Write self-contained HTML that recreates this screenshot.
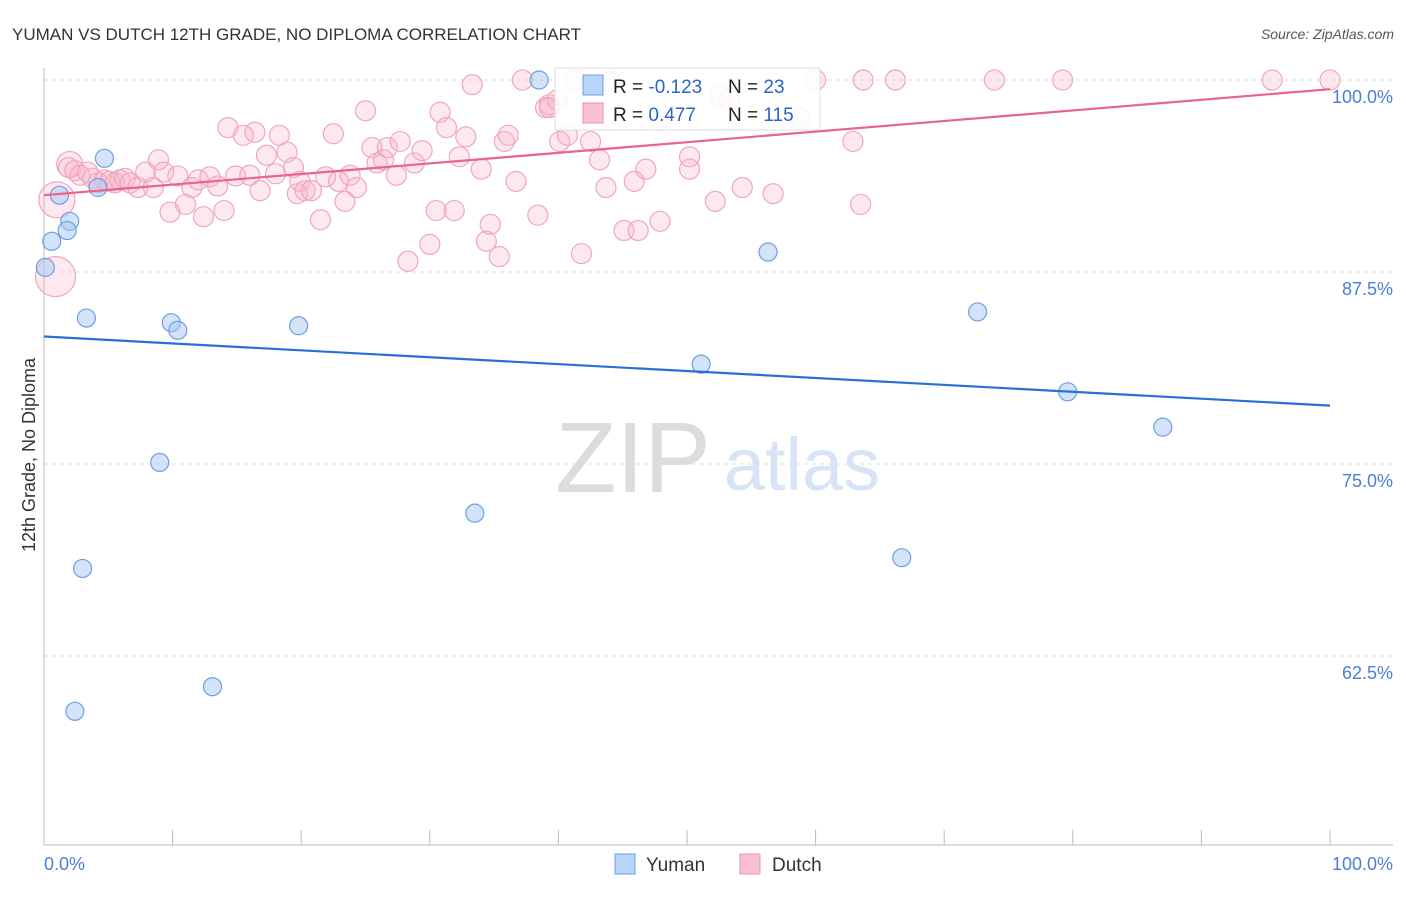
<!DOCTYPE html>
<html><head><meta charset="utf-8"><style>
body{margin:0;background:#fff;font-family:"Liberation Sans",sans-serif;}
svg text{font-family:"Liberation Sans",sans-serif;}
</style></head><body>
<svg id="chart" width="1406" height="892" viewBox="0 0 1406 892">
<text x="12" y="40" font-size="17" fill="#333">YUMAN VS DUTCH 12TH GRADE, NO DIPLOMA CORRELATION CHART</text>
<text x="1394" y="39" font-size="14" fill="#555" text-anchor="end" font-style="italic">Source: ZipAtlas.com</text>
<g>
<text x="633" y="492" font-size="100" fill="#dcdcdc" text-anchor="middle" font-family="Liberation Serif">ZIP</text>
<text x="802" y="490" font-size="74" fill="#d6e4f6" text-anchor="middle">atlas</text>
</g>
<g id="grid"></g>
<g id="axes"></g>
<g id="marks"></g>
<g>
<rect x="555" y="68" width="265" height="62" fill="#fff" fill-opacity="0.85" stroke="#ddd"/>
<rect x="583" y="75" width="20" height="20" fill="#b8d4f6" stroke="#6a9fe0"/>
<rect x="583" y="103" width="20" height="20" fill="#f9c2d2" stroke="#e890a8"/>
<text x="613" y="93" font-size="19" fill="#222">R = <tspan fill="#2a64c8">-0.123</tspan></text>
<text x="728" y="93" font-size="19" fill="#222">N = <tspan fill="#2a64c8"> 23</tspan></text>
<text x="613" y="121" font-size="19" fill="#222">R = <tspan fill="#2a64c8"> 0.477</tspan></text>
<text x="728" y="121" font-size="19" fill="#222">N = <tspan fill="#2a64c8">115</tspan></text>
</g>
<g>
<rect x="615" y="854" width="20" height="20" fill="#b8d4f6" stroke="#6a9fe0"/>
<text x="646" y="871" font-size="19" fill="#333">Yuman</text>
<rect x="740" y="854" width="20" height="20" fill="#f9c2d2" stroke="#e890a8"/>
<text x="772" y="871" font-size="19" fill="#333">Dutch</text>
</g>
<text transform="translate(35,455) rotate(-90)" font-size="18" fill="#333" text-anchor="middle">12th Grade, No Diploma</text>
</svg>
<script>
const yTicks=[100,87.5,75,62.5];
const yTickLabels=["100.0%","87.5%","75.0%","62.5%"];
const xLabels=["0.0%","100.0%"];
const blueX=[4.7,1.2,2.0,1.8,0.6,4.2,0.1,3.3,9.9,10.4,19.8,9.0,3.0,13.1,2.4,33.5,38.5,51.1,56.3,72.6,79.6,87.0,66.7];
const blueY=[94.9,92.5,90.8,90.2,89.5,93.0,87.8,84.5,84.2,83.7,84.0,75.1,68.2,60.5,58.9,71.8,100,81.5,88.8,84.9,79.7,77.4,68.9];
const pinkX=[1.0,0.9,2.0,1.9,2.4,2.8,3.4,3.8,4.2,4.7,5.1,5.5,5.9,6.3,6.7,7.3,7.9,8.5,8.9,9.3,9.8,10.4,11.0,11.5,12.0,12.4,12.9,13.5,14.0,14.3,14.9,15.5,16.0,16.4,16.8,17.3,18.0,18.3,18.9,19.4,19.7,19.9,20.3,20.8,21.5,21.9,22.5,22.9,23.4,23.8,24.3,25.0,25.5,25.9,26.4,26.7,27.4,27.7,28.3,28.8,29.4,30.0,30.5,30.8,31.3,31.9,32.3,32.8,33.3,34.0,34.4,34.7,35.4,35.8,36.1,36.7,37.2,38.4,39.0,39.3,39.9,40.1,40.7,41.8,42.5,43.2,43.7,45.1,45.9,46.2,46.8,47.9,50.2,52.2,54.3,56.7,60.0,62.9,63.5,63.7,66.2,73.9,79.2,95.5,100,41.3,44.0,47.9,50.2,52.6,53.3,58.8,39.3];
const pinkY=[92.2,87.2,94.5,94.3,94.1,93.8,94.0,93.6,93.3,93.5,93.4,93.3,93.5,93.6,93.3,93.0,94.0,93.0,94.8,94.0,91.4,93.75,91.9,93.0,93.5,91.1,93.7,93.1,91.5,96.9,93.75,96.4,93.8,96.6,92.8,95.1,93.9,96.4,95.3,94.3,92.6,93.4,92.8,92.8,90.9,93.7,96.5,93.4,92.1,93.8,93.0,98.0,95.6,94.6,94.8,95.6,93.8,96.0,88.2,94.6,95.4,89.3,91.5,97.9,96.9,91.5,95.0,96.3,99.7,94.2,89.5,90.6,88.5,96.0,96.4,93.4,100,91.2,98.2,98.4,98.7,96.0,96.4,88.7,96.0,94.8,93.0,90.2,93.4,90.2,94.2,90.8,94.2,92.1,93.0,92.6,100,96.0,91.9,100,100,100,100,100,100,100,99.9,97.4,95.0,99.0,98.7,97.5,98.2];
const pinkSize=[18,20,13];
const blueTrend=[83.3,78.8];
const pinkTrend=[92.5,99.4];
const NS="http://www.w3.org/2000/svg";
const X0=44,X1=1330,Y100=80,PX=15.36;
function sx(v){return X0+(X1-X0)*v/100;}
function sy(v){return Y100+(100-v)*PX;}
function mk(t,a,p){const e=document.createElementNS(NS,t);for(const k in a)e.setAttribute(k,a[k]);p.appendChild(e);return e;}
const grid=document.getElementById('grid'),axes=document.getElementById('axes'),marks=document.getElementById('marks');
yTicks.forEach((t,i)=>{
 const l=mk('line',{x1:X0,x2:1393,y1:sy(t),y2:sy(t),stroke:'#ddd','stroke-dasharray':'4,4'},grid);
 
 
 const tx=mk('text',{x:1393,y:sy(t)+23,'font-size':18,fill:'#4a7fd4','text-anchor':'end'},axes);
 tx.textContent=yTickLabels[i];
 
 
});
const ax=mk('line',{x1:X0,x2:1393,y1:845,y2:845,stroke:'#bbb'},axes);


const ay=mk('line',{x1:X0,x2:X0,y1:68,y2:845,stroke:'#bbb'},axes);


for(let i=0;i<=10;i++){const t=mk('line',{x1:sx(i*10),x2:sx(i*10),y1:830,y2:845,stroke:'#bbb'},axes);
 
 }
const xl0=mk('text',{x:44,y:870,'font-size':18,fill:'#4a7fd4'},axes);xl0.textContent=xLabels[0];


const xl1=mk('text',{x:1393,y:870,'font-size':18,fill:'#4a7fd4','text-anchor':'end'},axes);xl1.textContent=xLabels[1];


pinkX.forEach((x,i)=>{const c=mk('circle',{cx:sx(x),cy:sy(pinkY[i]),r:pinkSize[i]||10,fill:'rgba(248,180,202,0.3)',stroke:'#f0a6be','stroke-width':1.2},marks);
 
 });
blueX.forEach((x,i)=>{const c=mk('circle',{cx:sx(x),cy:sy(blueY[i]),r:9,fill:'rgba(165,200,245,0.5)',stroke:'#6f9fe0','stroke-width':1.2},marks);
 
 });
const bt=mk('line',{x1:sx(0),x2:sx(100),y1:sy(blueTrend[0]),y2:sy(blueTrend[1]),stroke:'#2a6fd6','stroke-width':2.2},marks);


const pt=mk('line',{x1:sx(0),x2:sx(100),y1:sy(pinkTrend[0]),y2:sy(pinkTrend[1]),stroke:'#e8648e','stroke-width':2.2},marks);


</script>
</body></html>
